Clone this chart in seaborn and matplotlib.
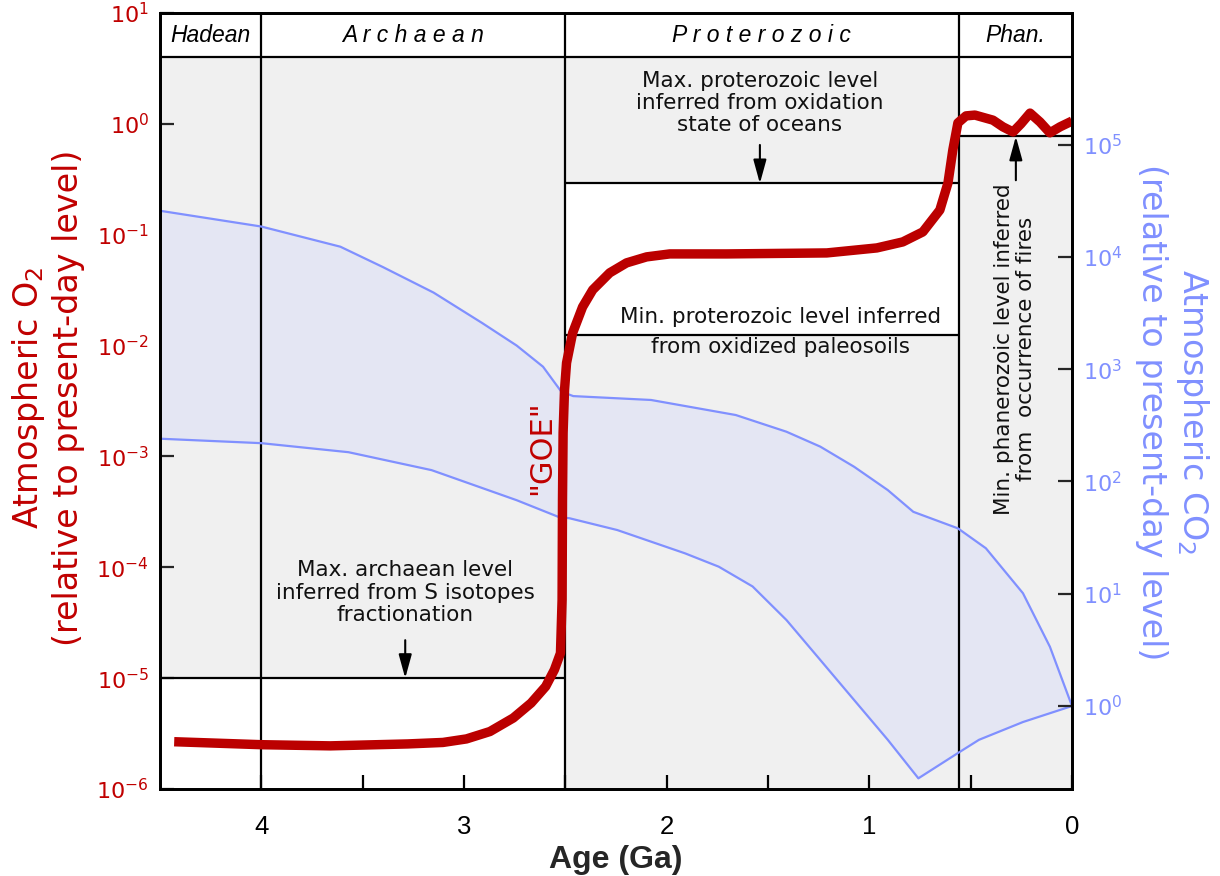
import numpy as np
import matplotlib
matplotlib.use("Agg")
import matplotlib.pyplot as plt
import seaborn as sns
from matplotlib.ticker import FixedLocator, NullLocator, LogFormatterSciNotation

# ---------------- data ----------------
# Atmospheric O2 (relative to present-day level) vs age (Ga)
o2_age = [4.43, 4.0, 3.66, 3.278, 3.104, 2.988, 2.872, 2.757, 2.669, 2.597, 2.554, 2.524,
          2.516, 2.514, 2.511, 2.504, 2.494, 2.464, 2.415, 2.365, 2.281, 2.198, 2.099, 1.985,
          1.704, 1.210, 0.963, 0.835, 0.736, 0.652, 0.612, 0.588, 0.563, 0.523, 0.479, 0.390,
          0.341, 0.291, 0.252, 0.207, 0.158, 0.109, 0.059, 0.0]
o2_level = [2.67e-6, 2.51e-6, 2.45e-6, 2.55e-6, 2.63e-6, 2.83e-6, 3.30e-6, 4.37e-6, 5.96e-6, 8.41e-6, 1.19e-5, 1.68e-5,
            5.1e-5, 4.07e-4, 1.63e-3, 3.98e-3, 6.98e-3, 1.30e-2, 2.23e-2, 3.18e-2, 4.53e-2, 5.57e-2, 6.31e-2, 6.71e-2,
            6.71e-2, 6.85e-2, 7.60e-2, 8.61e-2, 0.106, 0.167, 0.293, 0.582, 1.02, 1.18, 1.20, 1.08,
            0.94, 0.845, 1.0, 1.25, 1.04, 0.83, 0.94, 1.06]

# Atmospheric CO2 range (relative to present-day level)
co2_upper_age = [4.5, 4.0, 3.61, 3.40, 3.15, 2.91, 2.74, 2.61, 2.52, 2.461, 2.077, 1.659,
                 1.409, 1.242, 1.075, 0.909, 0.783, 0.563, 0.425, 0.242, 0.109, 0.0]
co2_upper = [25700, 18600, 12300, 8100, 4800, 2570, 1620, 1050, 630, 575, 531, 390,
             277, 204, 135, 83.7, 53.6, 38.2, 25.4, 10.1, 3.37, 1.0]
co2_lower_age = [4.5, 4.0, 3.57, 3.16, 2.74, 2.53, 2.48, 2.244, 1.910, 1.743, 1.576, 1.409,
                 1.242, 1.075, 0.909, 0.758, 0.563, 0.459, 0.242, 0.0]
co2_lower = [240, 219, 182, 126, 68, 48, 47, 36.9, 22.9, 17.4, 11.6, 5.83,
             2.57, 1.13, 0.50, 0.227, 0.381, 0.50, 0.72, 1.0]

# Eras
era_names = ["Hadean", "A r c h a e a n", "P r o t e r o z o i c", "Phan."]
era_bounds = [4.5, 4.0, 2.5, 0.56, 0.0]

# Constraint levels
header_level = 4.0
archaean_max = 1e-5
proterozoic_max = 0.29
proterozoic_min = 0.0125
phanerozoic_min = 0.77

x_major = [4, 3, 2, 1, 0]
x_minor = [3.5, 2.5, 1.5, 0.5]
o2_ticks = [1e-6, 1e-5, 1e-4, 1e-3, 1e-2, 1e-1, 1e0, 1e1]
co2_ticks = [1e0, 1e1, 1e2, 1e3, 1e4, 1e5]

# ---------------- style ----------------
sns.set_style("ticks")
plt.rcParams["font.family"] = ["DejaVu Sans"]
plt.rcParams["mathtext.default"] = "regular"

RED = "#c00000"
CURVE = "#bb0000"
BLUE = "#8090ff"
FILL = "#e4e6f3"
GRAY = "#f0f0f0"
LW = 1.6

fig = plt.figure(figsize=(12.2, 8.76), dpi=100)
ax = fig.add_axes([160 / 1220, 1 - 789 / 876, (1072 - 160) / 1220, (789 - 13) / 876])
ax2 = ax.twinx()

ax.set_yscale("log")
ax2.set_yscale("log")
ax.set_xlim(4.5, 0)
ax.set_ylim(1e-6, 1e1)
ax2.set_ylim(10 ** -0.739, 10 ** 6.171)

# gray background regions
ax.fill_between([era_bounds[0], era_bounds[2]], archaean_max, header_level, color=GRAY, lw=0, zorder=0.5)
ax.fill_between([era_bounds[2], era_bounds[3]], proterozoic_max, header_level, color=GRAY, lw=0, zorder=0.5)
ax.fill_between([era_bounds[2], era_bounds[3]], 1e-6, proterozoic_min, color=GRAY, lw=0, zorder=0.5)
ax.fill_between([era_bounds[3], era_bounds[4]], 1e-6, phanerozoic_min, color=GRAY, lw=0, zorder=0.5)

# CO2 band (right axis scale)
poly_x = list(co2_upper_age) + list(co2_lower_age[::-1])
poly_y = list(co2_upper) + list(co2_lower[::-1])
ax.fill(poly_x, poly_y, color=FILL, lw=0, zorder=1, transform=ax2.transData)

# black reference lines
ax.axhline(header_level, color="k", lw=LW, zorder=2)
for b in era_bounds[1:4]:
    ax.axvline(b, color="k", lw=LW, zorder=2)
ax.hlines(archaean_max, era_bounds[0], era_bounds[2], color="k", lw=LW, zorder=2)
ax.hlines([proterozoic_max, proterozoic_min], era_bounds[2], era_bounds[3], color="k", lw=LW, zorder=2)
ax.hlines(phanerozoic_min, era_bounds[3], era_bounds[4], color="k", lw=LW, zorder=2)

# CO2 edges
sns.lineplot(x=co2_upper_age, y=co2_upper, ax=ax, sort=False, estimator=None, color=BLUE,
             lw=1.6, zorder=2.5, transform=ax2.transData)
sns.lineplot(x=co2_lower_age, y=co2_lower, ax=ax, sort=False, estimator=None, color=BLUE,
             lw=1.6, zorder=2.5, transform=ax2.transData)

# O2 curve
sns.lineplot(x=o2_age, y=o2_level, ax=ax, sort=False, estimator=None, color=CURVE,
             lw=6.8, zorder=3, solid_joinstyle="round", solid_capstyle="butt")

# era names
hdr_y = np.sqrt(header_level * 10)
for i, name in enumerate(era_names):
    xc = (era_bounds[i] + era_bounds[i + 1]) / 2
    ax.text(xc, hdr_y, name, ha="center", va="center", fontsize=16.5, style="italic",
            family="Liberation Sans", color="k", zorder=4)

TXT = "#111111"
FS = 15.5
ax.text(3.29, 5.9e-5, "Max. archaean level\ninferred from S isotopes\nfractionation",
        ha="center", va="center", ma="center", fontsize=FS, color=TXT, zorder=4, linespacing=1.15)
ax.text(1.54, 1.54, "Max. proterozoic level\ninferred from oxidation\nstate of oceans",
        ha="center", va="center", ma="center", fontsize=FS, color=TXT, zorder=4, linespacing=1.15)
ax.text(1.44, 0.01815, "Min. proterozoic level inferred", ha="center", va="center",
        fontsize=FS, color=TXT, zorder=4)
ax.text(1.44, 0.00973, "from oxidized paleosoils", ha="center", va="center",
        fontsize=FS, color=TXT, zorder=4)
ax.text(0.28, 9.3e-3, "Min. phanerozoic level inferred\nfrom  occurrence of fires", rotation=90,
        ha="center", va="center", ma="center", fontsize=FS, color=TXT, zorder=4, linespacing=1.1)
ax.text(2.617, 1.2e-3, '"GOE"', rotation=90, ha="center", va="center", fontsize=22,
        color=RED, zorder=4)

arrow = dict(arrowstyle="-|>,head_length=0.8,head_width=0.22", color="k", lw=1.5,
             shrinkA=0, shrinkB=0, mutation_scale=18)
ax.annotate("", xy=(3.29, archaean_max), xytext=(3.29, 2.2e-5), arrowprops=arrow, zorder=4)
ax.annotate("", xy=(1.54, proterozoic_max), xytext=(1.54, 0.645), arrowprops=arrow, zorder=4)
ax.annotate("", xy=(0.277, phanerozoic_min), xytext=(0.277, 0.31), arrowprops=arrow, zorder=4)

# ticks
ax.xaxis.set_major_locator(FixedLocator(x_major))
ax.xaxis.set_minor_locator(FixedLocator(x_minor))
ax.set_xticklabels([str(v) for v in x_major])
ax.yaxis.set_major_locator(FixedLocator(o2_ticks))
ax.yaxis.set_major_formatter(LogFormatterSciNotation())
ax.yaxis.set_minor_locator(NullLocator())
ax2.yaxis.set_major_locator(FixedLocator(co2_ticks))
ax2.yaxis.set_major_formatter(LogFormatterSciNotation())
ax2.yaxis.set_minor_locator(NullLocator())

ax.tick_params(axis="x", which="both", direction="in", length=10, width=1.6, labelsize=18.5,
               pad=19, top=False, colors="k")
ax.tick_params(axis="y", which="major", direction="in", length=10, width=1.6, labelsize=16,
               pad=8, labelcolor=RED, right=False)
ax2.tick_params(axis="y", which="major", direction="in", length=10, width=1.6, labelsize=16,
                pad=8, labelcolor=BLUE)
for lbl in ax.get_xticklabels():
    lbl.set_fontfamily("Liberation Sans")

for a in (ax, ax2):
    for s in a.spines.values():
        s.set_linewidth(2.0)
        s.set_color("k")

ax.set_xlabel("Age (Ga)", fontsize=23, fontweight="bold", family="Liberation Sans", labelpad=4)
ax.set_ylabel("")
ax2.set_ylabel("")

fig.text(0.039, 0.546, "Atmospheric O$_2$\n(relative to present-day level)", rotation=90,
         ha="center", va="center", ma="center", fontsize=24, color=RED)
fig.text(0.9615, 0.530, "Atmospheric CO$_2$\n(relative to present-day level)", rotation=270,
         ha="center", va="center", ma="center", fontsize=24, color=BLUE)

fig.savefig("out.png", dpi=100)
